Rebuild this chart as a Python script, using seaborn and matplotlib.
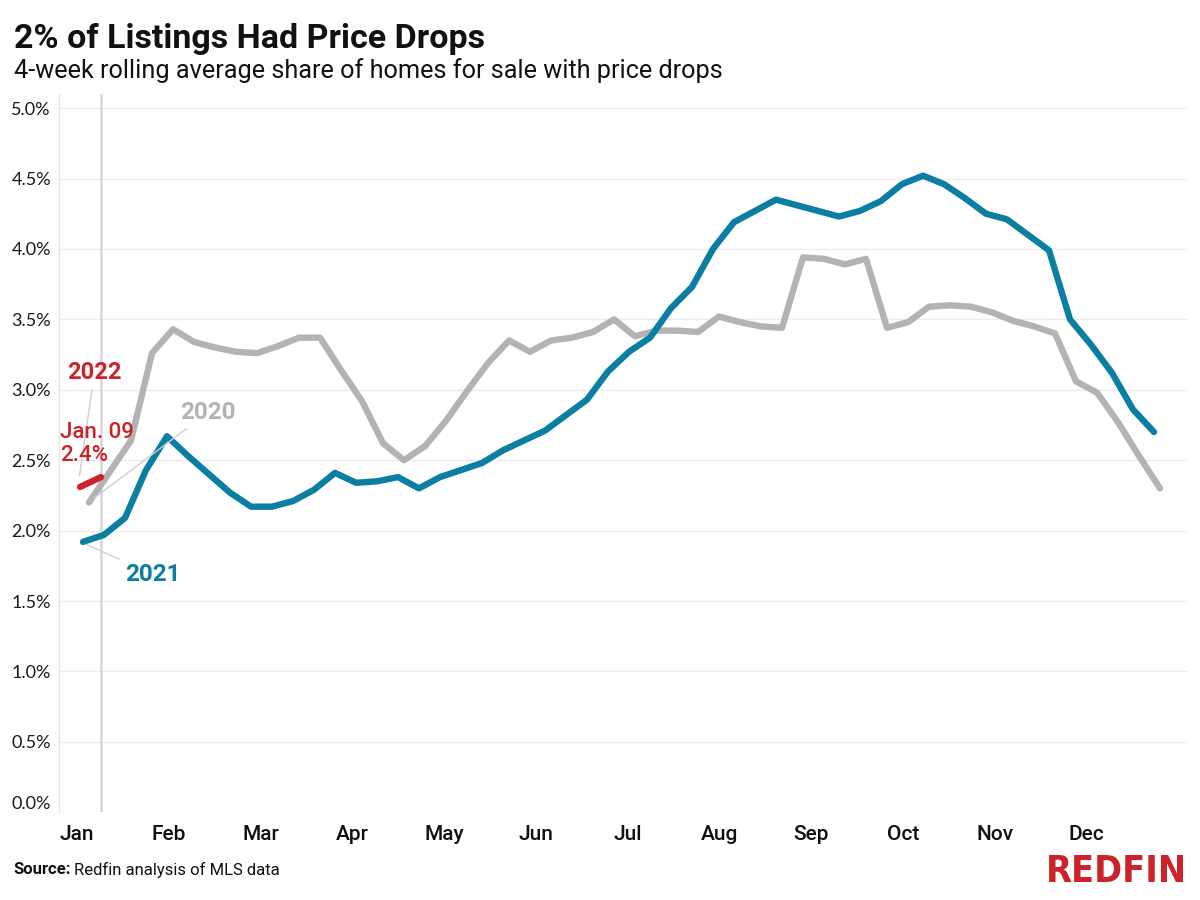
import numpy as np
import pandas as pd
import matplotlib
matplotlib.use("Agg")
import matplotlib.pyplot as plt
import seaborn as sns

# ---------------- data ----------------
months = ["Jan", "Feb", "Mar", "Apr", "May", "Jun", "Jul", "Aug", "Sep", "Oct", "Nov", "Dec"]
y_ticks = [0.0, 0.5, 1.0, 1.5, 2.0, 2.5, 3.0, 3.5, 4.0, 4.5, 5.0]

start_2020 = "2020-01-05"
share_2020 = [2.20, 2.42, 2.64, 3.26, 3.43, 3.34, 3.30, 3.27, 3.26, 3.31,
              3.37, 3.37, 3.14, 2.92, 2.62, 2.50, 2.60, 2.78, 2.99, 3.19,
              3.35, 3.27, 3.35, 3.37, 3.41, 3.50, 3.38, 3.42, 3.42, 3.41,
              3.52, 3.48, 3.45, 3.44, 3.94, 3.93, 3.89, 3.93, 3.44, 3.48,
              3.59, 3.60, 3.59, 3.55, 3.49, 3.45, 3.40, 3.06, 2.98, 2.77,
              2.53, 2.30]

start_2021 = "2021-01-03"
share_2021 = [1.92, 1.97, 2.09, 2.43, 2.67, 2.53, 2.40, 2.27, 2.17, 2.17,
              2.21, 2.29, 2.41, 2.34, 2.35, 2.38, 2.30, 2.38, 2.43, 2.48,
              2.57, 2.64, 2.71, 2.82, 2.93, 3.13, 3.27, 3.37, 3.58, 3.73,
              4.00, 4.19, 4.27, 4.35, 4.31, 4.27, 4.23, 4.27, 4.34, 4.46,
              4.52, 4.46, 4.36, 4.25, 4.21, 4.10, 3.99, 3.50, 3.32, 3.12,
              2.86, 2.70]

start_2022 = "2022-01-02"
share_2022 = [2.31, 2.38]

latest_day = "2022-01-09"
latest_label = "Jan. 09"
latest_value = "2.4%"

# ---------------- build frame ----------------
def weekly(start, vals, label):
    d = pd.date_range(start, periods=len(vals), freq="7D")
    return pd.DataFrame({"doy": d.dayofyear.values, "share": vals, "year": label})

df = pd.concat([weekly(start_2020, share_2020, "2020"),
                weekly(start_2021, share_2021, "2021"),
                weekly(start_2022, share_2022, "2022")], ignore_index=True)

TEAL = "#0a7fa2"
GRAY = "#b3b3b3"
RED = "#cc2229"
palette = {"2020": GRAY, "2021": TEAL, "2022": RED}

sns.set_style("white")
plt.rcParams["font.family"] = ["Roboto", "DejaVu Sans"]

fig = plt.figure(figsize=(12, 9), dpi=100)
ax = fig.add_axes([0.04942, 0.09744, 0.9395, 0.7981])

latest_doy = pd.Timestamp(latest_day).dayofyear
ax.axvline(latest_doy, color="#d6d6d6", lw=1.8, zorder=1)

sns.lineplot(data=df, x="doy", y="share", hue="year", hue_order=["2020", "2021", "2022"],
             palette=palette, linewidth=4.6, legend=False, sort=False, ax=ax, zorder=3)
for ln in ax.lines[1:]:
    ln.set_solid_capstyle("round")
    ln.set_solid_joinstyle("round")

ax.set_xlim(-4.9, 370.9)
ax.set_ylim(0, 5.1)

ax.set_yticks(y_ticks)
ax.set_yticklabels([f"{v:.1f}%" for v in y_ticks])
ax.yaxis.grid(True, color="#ebebeb", lw=1)
ax.xaxis.grid(False)
ax.set_axisbelow(True)
for s in ["top", "right", "bottom"]:
    ax.spines[s].set_visible(False)
ax.spines["left"].set_color("#e6e6e6")
ax.spines["left"].set_linewidth(1)

xt = 1 + np.arange(12) * 30.6
ax.set_xticks(xt)
ax.set_xticklabels(months)
ax.tick_params(axis="y", length=0, pad=6, labelsize=13, labelcolor="#1a1a1a")
ax.tick_params(axis="x", length=0, pad=9, labelsize=15, labelcolor="#111111")
for t in ax.get_yticklabels():
    t.set_fontfamily(["Lato", "DejaVu Sans"])
for t in ax.get_xticklabels():
    t.set_fontweight("medium")
ax.get_yticklabels()[0].set_va("bottom")
ax.set_xlabel("")
ax.set_ylabel("")

# ---------------- annotations ----------------
leader = dict(arrowstyle="-", color="#cfcfcf", lw=1)
ax.annotate("2022", xy=(1.7, 2.37), xytext=(6.8, 3.12), color=RED, fontsize=17,
            fontweight="bold", ha="center", va="center", arrowprops=leader)
ax.text(-4.7, 2.70, latest_label, color=RED, fontsize=16, fontweight="medium",
        ha="left", va="center")
ax.text(-4.7, 2.53, latest_value, color=RED, fontsize=16, fontweight="medium",
        ha="left", va="center")
ax.annotate("2020", xy=(6.0, 2.22), xytext=(35.5, 2.84), color=GRAY, fontsize=17.5,
            fontweight="bold", ha="left", va="center", arrowprops=leader)
ax.annotate("2021", xy=(3.3, 1.91), xytext=(17.0, 1.69), color=TEAL, fontsize=17.5,
            fontweight="bold", ha="left", va="center", arrowprops=leader)

# ---------------- titles ----------------
fig.text(14 / 1200, 1 - 39 / 900, "2% of Listings Had Price Drops", fontsize=24.5,
         fontweight="bold", color="#111111", ha="left", va="center")
fig.text(14 / 1200, 1 - 71 / 900, "4-week rolling average share of homes for sale with price drops",
         fontsize=18.2, color="#111111", ha="left", va="center")

src = fig.text(13 / 1200, 1 - 870 / 900, "Source:", fontsize=12, fontweight="bold",
               color="#111111", ha="left", va="center")
fig.canvas.draw()
bb = src.get_window_extent()
fig.text((bb.x1 + 4) / 1200, 1 - 870 / 900, "Redfin analysis of MLS data", fontsize=12,
         color="#111111", ha="left", va="center")

fig.text(1187 / 1200, 1 - 872 / 900, "REDFIN", fontsize=27, fontweight="bold",
         family=["DejaVu Sans"], fontstretch="condensed", color=RED, ha="right", va="center")

fig.savefig("out.png", dpi=100, facecolor="white")
